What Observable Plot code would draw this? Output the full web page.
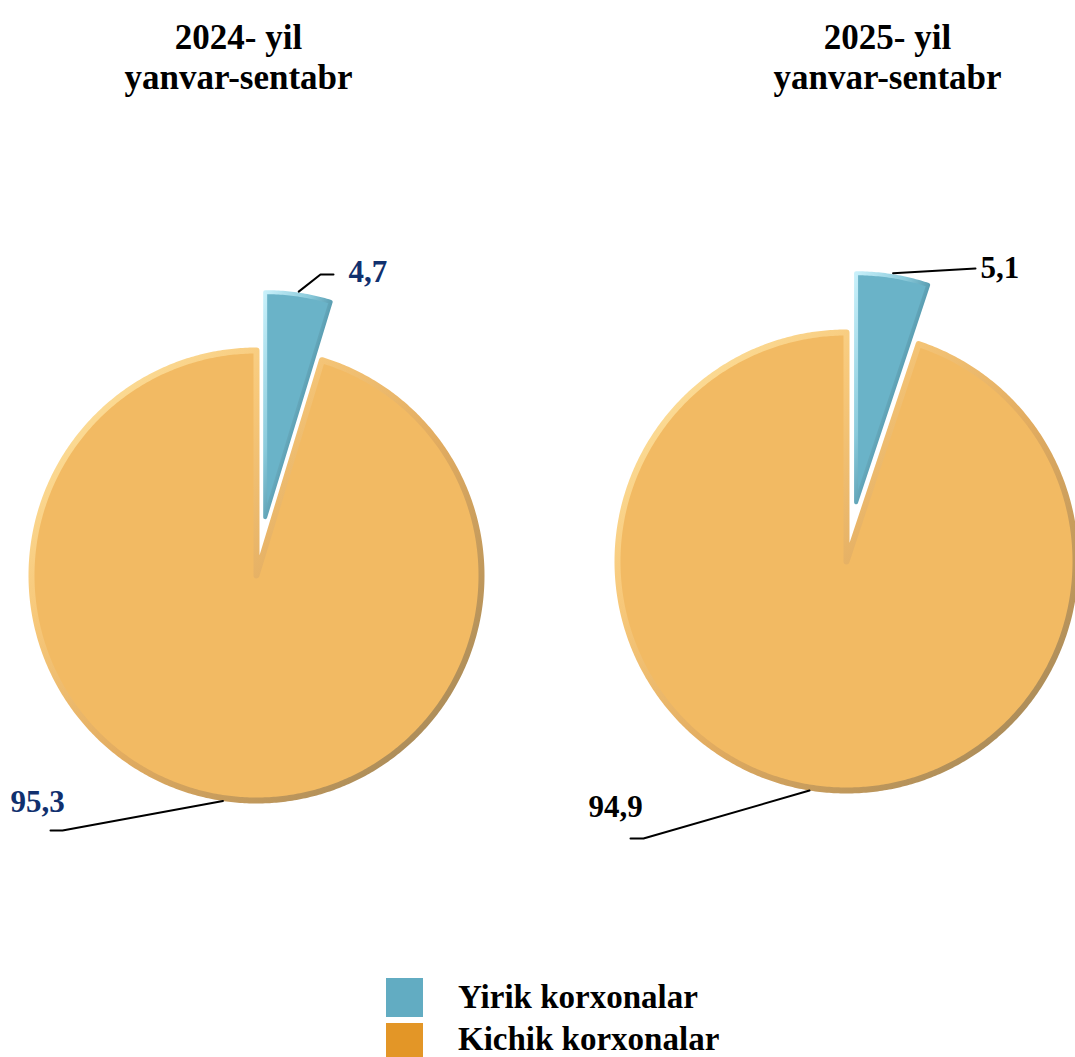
<!DOCTYPE html>
<html>
<head>
<meta charset="utf-8">
<script src="https://cdn.jsdelivr.net/npm/d3@7"></script>
<script src="https://cdn.jsdelivr.net/npm/@observablehq/plot@0.6"></script>
<style>
  html, body { margin: 0; padding: 0; background: #fff; }
  body { width: 1075px; font-family: "Liberation Serif", "Times New Roman", serif; }
  #legend { position: relative; width: 1075px; height: 92px; }
  .sw { position: absolute; left: 386px; width: 37px; }
  .lt { position: absolute; left: 458px; font-size: 33px; font-weight: bold; color: #000; line-height: 1; white-space: nowrap; }
</style>
</head>
<body>
<div id="chart"></div>
<div id="legend"></div>
<script>
// ---- data ----
const years = ["2024- yil", "2025- yil"];
const period = "yanvar-sentabr";
const categories = ["Yirik korxonalar", "Kichik korxonalar"];
const shares2024 = [4.7, 95.3];
const shares2025 = [5.1, 94.9];
const labels2024 = ["4,7", "95,3"];
const labels2025 = ["5,1", "94,9"];

// ---- colours ----
const pieColors = ["#6AB3C8", "#F2BA63"];
const legendColors = ["#62ACC2", "#E39627"];
const labelColors = ["#10306E", "#000000"];

// ---- layout (pixels) ----
const W = 1075, H = 965;
const layout = [
  {cx: 256, cy: 575, r: 225, explode: 59, titleX: 238,
   leaders: [{elbow: [320, 274], end: [333, 274], tx: 348, ty: 281},
             {elbow: [62, 830], end: [50, 830], tx: 10, ty: 811}]},
  {cx: 846, cy: 561, r: 229, explode: 60, titleX: 887,
   leaders: [{elbow: [975, 268], end: [975, 268], tx: 980, ty: 277},
             {elbow: [643, 838], end: [630, 838], tx: 588, ty: 816}]}
];
const series = [shares2024, shares2025];
const labelSets = [labels2024, labels2025];

// ---- build slice polygons ----
const slicePts = [];
const leaderPts = [];
const labelRows = [];
series.forEach((vals, p) => {
  const L = layout[p];
  const total = d3.sum(vals);
  let cum = 0;
  vals.forEach((v, i) => {
    const a0 = 2 * Math.PI * cum / total;
    const a1 = 2 * Math.PI * (cum + v) / total;
    cum += v;
    const mid = (a0 + a1) / 2;
    const off = i === 0 ? L.explode : 0;
    const ox = L.cx + off * Math.sin(mid);
    const oy = L.cy - off * Math.cos(mid);
    const key = years[p] + "|" + categories[i];
    slicePts.push({key, cat: categories[i], x: ox, y: oy});
    const n = Math.max(4, Math.ceil((a1 - a0) / 0.01));
    for (let k = 0; k <= n; k++) {
      const a = a0 + (a1 - a0) * k / n;
      slicePts.push({key, cat: categories[i], x: ox + L.r * Math.sin(a), y: oy - L.r * Math.cos(a)});
    }
    // leader line from slice edge at bisector
    const ax = ox + (L.r + 3) * Math.sin(mid), ay = oy - (L.r + 3) * Math.cos(mid);
    const ld = L.leaders[i];
    leaderPts.push({key, x: ax, y: ay}, {key, x: ld.elbow[0], y: ld.elbow[1]}, {key, x: ld.end[0], y: ld.end[1]});
    labelRows.push({text: labelSets[p][i], x: ld.tx, y: ld.ty, color: labelColors[p]});
  });
});

const titleRows = [];
years.forEach((y, p) => {
  titleRows.push({text: y, x: layout[p].titleX, y: 48});
  titleRows.push({text: period, x: layout[p].titleX, y: 88});
});

const defs = () => {
  const g = d3.create("svg:defs");
  const mk = (id, stops) => {
    const lg = g.append("linearGradient").attr("id", id)
      .attr("x1", "0").attr("y1", "0").attr("x2", "1").attr("y2", "1");
    stops.forEach(([o, c]) => lg.append("stop").attr("offset", o).attr("stop-color", c));
  };
  mk("edgeOrange", [[0, "#FFE9A8"], [0.3, "#F7C87A"], [0.55, "#E2AC60"], [1, "#968057"]]);
  mk("edgeBlue", [[0, "#C8F0FA"], [0.35, "#8ACADB"], [0.6, "#4A8FA4"], [1, "#2B6274"]]);
  const fb = g.append("linearGradient").attr("id", "fillBlue")
    .attr("x1", "0").attr("y1", "0").attr("x2", "1").attr("y2", "0");
  [[0, "#72BBCF"], [0.55, "#66AEC3"], [1, "#4E93A8"]].forEach(([o, c]) =>
    fb.append("stop").attr("offset", o).attr("stop-color", c));
  return g.node();
};

const chart = Plot.plot({
  width: W, height: H,
  margin: 0,
  x: {domain: [0, W], axis: null},
  y: {domain: [H, 0], axis: null},
  color: {domain: categories, range: pieColors},
  style: {fontFamily: "'Liberation Serif', 'Times New Roman', serif", background: "#fff", overflow: "visible"},
  marks: [
    defs,
    Plot.line(slicePts.filter(d => d.cat === categories[1]), {
      x: "x", y: "y", z: "key", fill: "cat", stroke: "url(#edgeOrange)",
      strokeWidth: 6, strokeLinejoin: "round", curve: "linear-closed"
    }),
    Plot.line(slicePts.filter(d => d.cat === categories[0]), {
      x: "x", y: "y", z: "key", fill: "cat", stroke: "url(#edgeBlue)",
      strokeWidth: 4, strokeLinejoin: "round", curve: "linear-closed"
    }),
    Plot.line(leaderPts, {x: "x", y: "y", z: "key", stroke: "#000", strokeWidth: 2}),
    Plot.text(labelRows, {
      x: "x", y: "y", text: "text", fill: "color", textAnchor: "start", lineAnchor: "bottom",
      fontSize: 31, fontWeight: "bold"
    }),
    Plot.text(titleRows, {
      x: "x", y: "y", text: "text", fill: "#000", textAnchor: "middle", lineAnchor: "bottom",
      fontSize: 35, fontWeight: "bold"
    })
  ]
});
document.getElementById("chart").appendChild(chart);

// ---- legend ----
const legend = d3.select("#legend");
const swTop = [978 - H, 1023 - H];
const swH = [39, 34];
const txtTop = [981 - H, 1023 - H];
categories.forEach((c, i) => {
  legend.append("div").attr("class", "sw")
    .style("top", swTop[i] + "px").style("height", swH[i] + "px")
    .style("background", legendColors[i]);
  legend.append("div").attr("class", "lt")
    .style("top", txtTop[i] + "px").text(c);
});
</script>
</body>
</html>
